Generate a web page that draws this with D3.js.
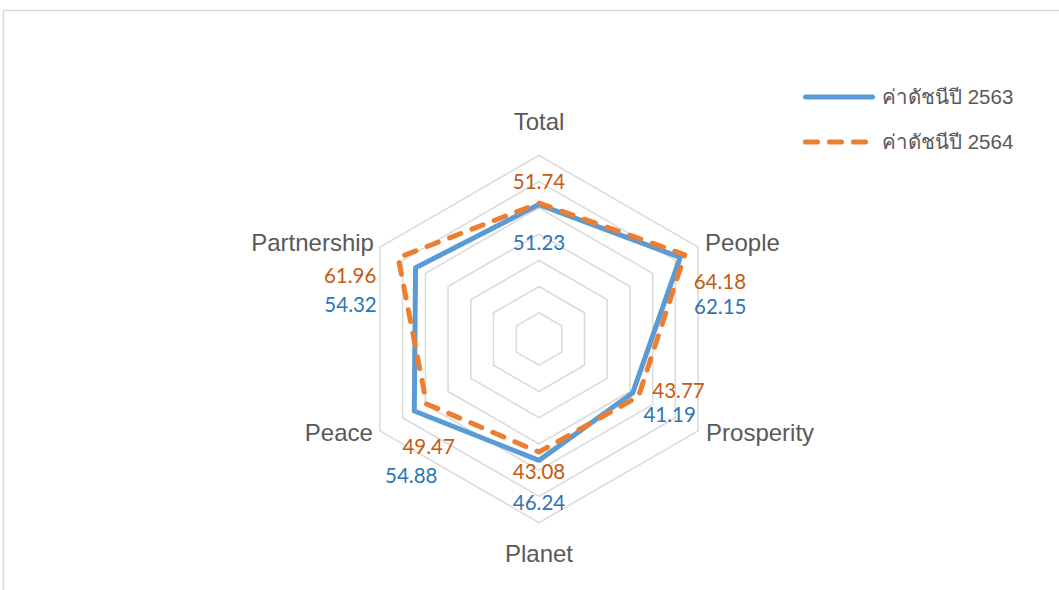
<!DOCTYPE html>
<html>
<head>
<meta charset="utf-8">
<script src="https://cdn.jsdelivr.net/npm/d3@7"></script>
<style>
  body { margin: 0; background: #fff; }
  svg { display: block; }
  .axisLabel { font-family: "Liberation Sans", Arial, sans-serif; font-size: 24px; fill: #595959; }
  .dataLabel { font-family: Lato, "Open Sans", sans-serif; font-size: 20.5px; }
  .legendText { font-family: "Liberation Sans", Arial, "Noto Sans", sans-serif; font-size: 20.5px; fill: #595959; }
</style>
</head>
<body>
<svg id="vis-svg" width="1059" height="590"></svg>
<script>

// Data
var axes = ['Total', 'People', 'Prosperity', 'Planet', 'Peace', 'Partnership'];
var values2563 = [51.23, 62.15, 41.19, 46.24, 54.88, 54.32];
var values2564 = [51.74, 64.18, 43.77, 43.08, 49.47, 61.96];
var seriesNames = ['ค่าดัชนีปี 2563', 'ค่าดัชนีปี 2564'];
var ringTicks = [10, 20, 30, 40, 50, 60, 70];

function radarChart(){

var width = 1059;
var height = 590;
var cx = 539, cy = 339;
var radius = 183.7;

var svg = d3.select('#vis-svg');

// Outer frame
svg.append('rect')
  .attr('x', 3.5).attr('y', 10.5)
  .attr('width', width + 20).attr('height', height + 20)
  .attr('fill', 'none')
  .attr('stroke', '#d9d9d9')
  .attr('stroke-width', 1.5);

var g = svg.append('g')
  .attr('transform', 'translate(' + cx + ',' + cy + ')');

// Scales
var rScale = d3.scaleLinear().domain([0, 70]).range([0, radius]);
var angle = d3.scalePoint().domain(axes).range([0, 2 * Math.PI * 5 / 6]);

function px(a, v){ return rScale(v) * Math.sin(angle(a)); }
function py(a, v){ return -rScale(v) * Math.cos(angle(a)); }

// Rings
var ringLine = d3.lineRadial()
  .angle(function(d){ return angle(d[0]); })
  .radius(function(d){ return rScale(d[1]); })
  .curve(d3.curveLinearClosed);

g.selectAll('.ring')
  .data(ringTicks)
  .enter().append('path')
  .attr('class', 'ring')
  .attr('d', function(t){ return ringLine(axes.map(function(a){ return [a, t]; })); })
  .attr('fill', 'none')
  .attr('stroke', '#d9d9d9')
  .attr('stroke-width', 1.5);

// Series lines
var seriesLine = d3.lineRadial()
  .angle(function(d, i){ return angle(axes[i]); })
  .radius(function(d){ return rScale(d); })
  .curve(d3.curveLinearClosed);

g.append('path')
  .attr('d', seriesLine(values2563))
  .attr('fill', 'none')
  .attr('stroke', '#5b9bd5')
  .attr('stroke-width', 5)
  .attr('stroke-linejoin', 'round');

g.append('path')
  .attr('d', seriesLine(values2564))
  .attr('fill', 'none')
  .attr('stroke', '#ed7d31')
  .attr('stroke-width', 5)
  .attr('stroke-linejoin', 'round')
  .attr('stroke-linecap', 'round')
  .attr('stroke-dasharray', '12,12');

// Axis labels (offset from outer vertex)
var axisLabelPos = {
  'Total':       { dx: 0,  dy: -34, anchor: 'middle' },
  'People':      { dx: 7,  dy: -5,  anchor: 'start' },
  'Prosperity':  { dx: 8,  dy: 2,   anchor: 'start' },
  'Planet':      { dx: 0,  dy: 31,  anchor: 'middle' },
  'Peace':       { dx: -7, dy: 2,   anchor: 'end' },
  'Partnership': { dx: -6, dy: -5,  anchor: 'end' }
};

g.selectAll('.axisLabel')
  .data(axes)
  .enter().append('text')
  .attr('class', 'axisLabel')
  .attr('x', function(a){ return px(a, 70) + axisLabelPos[a].dx; })
  .attr('y', function(a){ return py(a, 70) + axisLabelPos[a].dy; })
  .attr('dy', '0.35em')
  .attr('text-anchor', function(a){ return axisLabelPos[a].anchor; })
  .text(function(a){ return a; });

// Data labels (offset from point)
var off2563 = [[0, 38], [40, 49], [37, 22], [0, 42], [-3, 65], [-65, 37]];
var off2564 = [[0, -21], [35, 27], [40, -6], [0, 20], [2, 43], [-48, 18]];

function addLabels(vals, offs, color){
  g.selectAll(null)
    .data(vals)
    .enter().append('text')
    .attr('class', 'dataLabel')
    .attr('x', function(d, i){ return px(axes[i], d) + offs[i][0]; })
    .attr('y', function(d, i){ return py(axes[i], d) + offs[i][1]; })
    .attr('dy', '0.35em')
    .attr('text-anchor', 'middle')
    .attr('fill', color)
    .text(function(d){ return d.toFixed(2); });
}
addLabels(values2563, off2563, '#2e75b6');
addLabels(values2564, off2564, '#c55a11');

// Legend
var legend = svg.append('g').attr('transform', 'translate(803,97)');
var items = legend.selectAll('.item')
  .data(seriesNames)
  .enter().append('g')
  .attr('transform', function(d, i){ return 'translate(0,' + (i * 45) + ')'; });

items.append('line')
  .attr('x1', 2.5).attr('x2', 69.5)
  .attr('stroke', function(d, i){ return i === 0 ? '#5b9bd5' : '#ed7d31'; })
  .attr('stroke-width', 5)
  .attr('stroke-linecap', 'round')
  .attr('stroke-dasharray', function(d, i){ return i === 0 ? null : '12,12'; });

items.append('text')
  .attr('class', 'legendText')
  .attr('x', 79)
  .attr('dy', '0.35em')
  .text(function(d){ return d; });
}

radarChart();
</script>
</body>
</html>
